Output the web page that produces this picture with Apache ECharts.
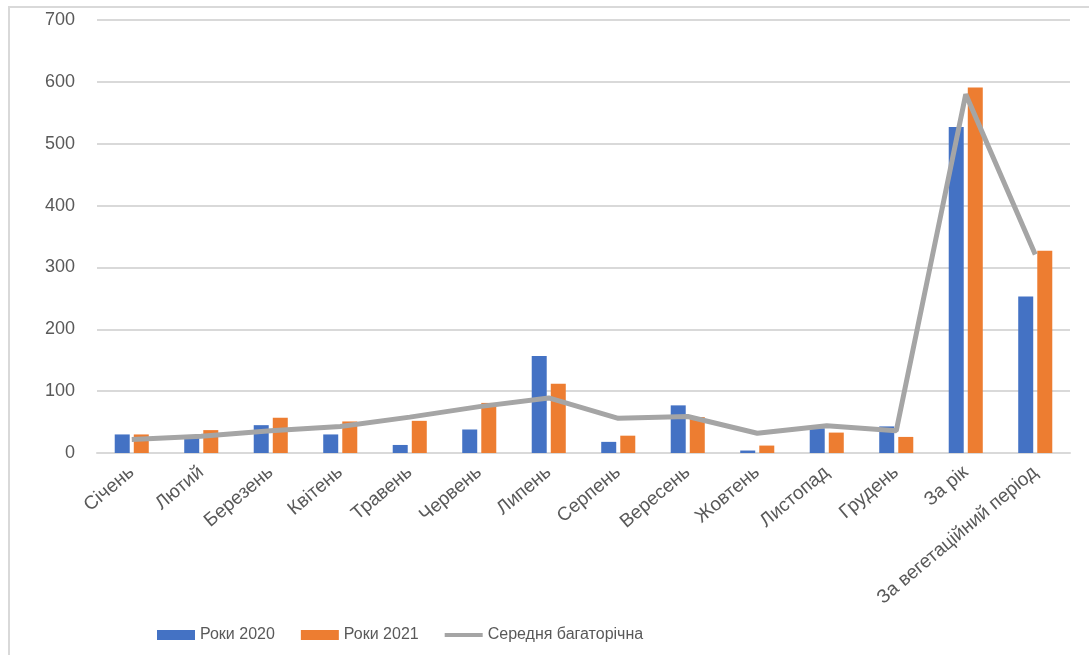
<!DOCTYPE html>
<html>
<head>
<meta charset="utf-8">
<script src="https://cdn.jsdelivr.net/npm/echarts@6/dist/echarts.min.js"></script>
<style>
  html, body { margin: 0; padding: 0; background: #fff; }
  #chart { width: 1089px; height: 655px; }
</style>
</head>
<body>
<div id="chart"></div>
<script>
// категорії (місяці + підсумки)
let categories = ['Січень', 'Лютий', 'Березень', 'Квітень', 'Травень', 'Червень', 'Липень',
    'Серпень', 'Вересень', 'Жовтень', 'Листопад', 'Грудень', 'За рік', 'За вегетаційний період'];

let roky2020 = [30, 26, 45, 30, 13, 38, 157, 18, 77, 4, 40, 43, 527, 253];
let roky2021 = [30, 37, 57, 51, 52, 81, 112, 28, 58, 12, 33, 26, 591, 327];
let serednia = [22, 27, 36, 43, 58, 75, 89, 56, 59, 32, 44, 36, 580, 321];

let yTicks = { min: 0, max: 700, interval: 100 };

let myChart;

window.onload = function () {
    myChart = echarts.init(document.getElementById('chart'));

    let textColor = '#595959';
    let font = '"Liberation Sans", Arial, sans-serif';

    let option = {
        animation: false,
        backgroundColor: '#fff',
        // рамка області діаграми
        graphic: [
            { type: 'line', shape: { x1: 9, y1: 7, x2: 9, y2: 655 }, style: { stroke: '#d9d9d9', lineWidth: 2 } },
            { type: 'line', shape: { x1: 8, y1: 7, x2: 1089, y2: 7 }, style: { stroke: '#d9d9d9', lineWidth: 2 } }
        ],
        grid: {
            left: 97,
            right: 19,
            top: 20,
            bottom: 202,
            containLabel: false
        },
        legend: {
            left: 152,
            top: 622,
            itemWidth: 38,
            itemHeight: 10,
            itemGap: 26,
            textStyle: { color: textColor, fontSize: 16, fontFamily: font },
            data: [
                { name: 'Роки 2020', icon: 'rect' },
                { name: 'Роки 2021', icon: 'rect' },
                // тонка смужка для лінії
                { name: 'Середня багаторічна', icon: 'path://M0,0L0.01,0L0.01,0.01Z M0,3L38,3L38,7L0,7Z M37.99,9.99L38,10L38,9.99Z' }
            ]
        },
        xAxis: {
            type: 'category',
            data: categories,
            axisLine: { lineStyle: { color: '#d9d9d9', width: 2 } },
            axisTick: { show: false },
            axisLabel: {
                interval: 0,
                rotate: 40,
                margin: 17,
                color: textColor,
                fontSize: 19,
                fontFamily: font
            }
        },
        yAxis: {
            type: 'value',
            min: yTicks.min,
            max: yTicks.max,
            interval: yTicks.interval,
            axisLine: { show: false },
            axisTick: { show: false },
            splitLine: { lineStyle: { color: '#d9d9d9', width: 2 } },
            axisLabel: {
                margin: 22,
                color: textColor,
                fontSize: 18,
                fontFamily: font
            }
        },
        series: [
            {
                name: 'Роки 2020',
                type: 'bar',
                data: roky2020,
                barWidth: 15,
                barGap: '27%',
                itemStyle: { color: '#4472c4' }
            },
            {
                name: 'Роки 2021',
                type: 'bar',
                data: roky2021,
                barWidth: 15,
                barGap: '27%',
                itemStyle: { color: '#ed7d31' }
            },
            {
                name: 'Середня багаторічна',
                type: 'line',
                data: serednia,
                symbol: 'none',
                z: 5,
                lineStyle: { color: '#a5a5a5', width: 5 },
                itemStyle: { color: '#a5a5a5' }
            }
        ]
    };

    myChart.setOption(option);
};
</script>
</body>
</html>
